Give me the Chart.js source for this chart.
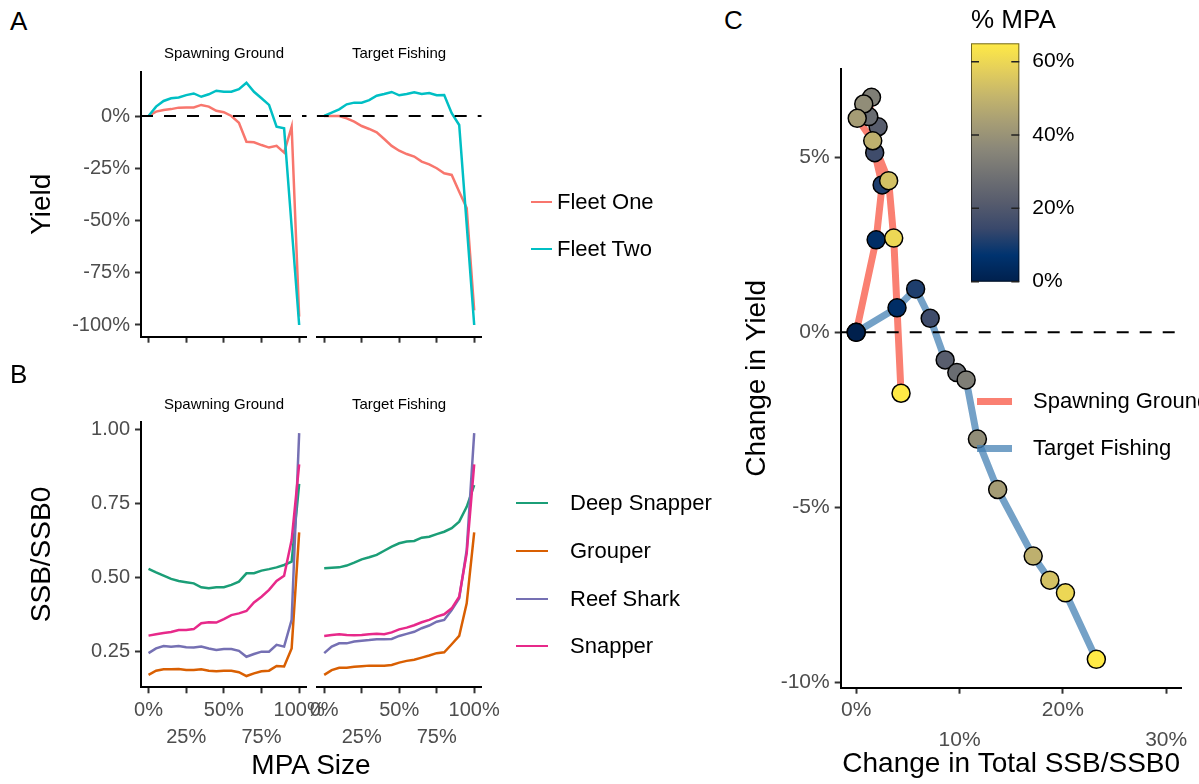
<!DOCTYPE html>
<html>
<head>
<meta charset="utf-8">
<script src="https://cdn.jsdelivr.net/npm/chart.js@4.4.1/dist/chart.umd.min.js"></script>
<style>
html, body { margin:0; padding:0; background:#fff; overflow:hidden; }
body { width:1199px; height:784px; position:relative; font-family:"Liberation Sans", Arial, sans-serif; }
canvas { position:absolute; }
.t { position:absolute; white-space:nowrap; color:#000; }
.key { position:absolute; }
</style>
</head>
<body>
<canvas id="cA1" width="340" height="330" style="left:0px;top:40px"></canvas>
<canvas id="cA2" width="222" height="330" style="left:300px;top:40px"></canvas>
<canvas id="cB1" width="340" height="384" style="left:0px;top:400px"></canvas>
<canvas id="cB2" width="222" height="384" style="left:300px;top:400px"></canvas>
<canvas id="cC" width="459" height="744" style="left:740px;top:40px"></canvas>
<canvas id="cBar" width="140" height="270" style="left:950px;top:30px"></canvas>
<script>
// ---- data -------------------------------------------------------------
const mpaSize = [0, 0.05, 0.1, 0.15, 0.2, 0.25, 0.3, 0.35, 0.4, 0.45, 0.5, 0.55, 0.6, 0.65, 0.7, 0.75, 0.8, 0.85, 0.9, 0.95, 1];

// A: yield change by fleet
const fleetOneSpawn  = [0, 0.021, 0.029, 0.033, 0.040, 0.041, 0.041, 0.053, 0.045, 0.025, 0.018, 0.000, -0.032, -0.123, -0.126, -0.139, -0.151, -0.143, -0.175, -0.051, -0.96];
const fleetTwoSpawn  = [0, 0.045, 0.072, 0.085, 0.089, 0.100, 0.108, 0.092, 0.104, 0.121, 0.116, 0.116, 0.128, 0.159, 0.116, 0.085, 0.053, -0.051, -0.059, -0.53, -1.0];
const fleetOneTarget = [0, 0, 0, -0.011, -0.027, -0.048, -0.062, -0.078, -0.110, -0.143, -0.166, -0.182, -0.194, -0.218, -0.231, -0.250, -0.274, -0.282, -0.362, -0.44, -0.93];
const fleetTwoTarget = [0, 0.016, 0.032, 0.056, 0.064, 0.064, 0.076, 0.097, 0.105, 0.115, 0.099, 0.105, 0.113, 0.105, 0.110, 0.099, 0.100, 0.013, -0.043, -0.52, -1.0];

// B: SSB/SSB0 by species
const deepSnapperSpawn = [0.529, 0.517, 0.506, 0.495, 0.488, 0.484, 0.480, 0.467, 0.464, 0.467, 0.467, 0.475, 0.486, 0.514, 0.514, 0.523, 0.528, 0.534, 0.542, 0.553, 0.815];
const grouperSpawn     = [0.172, 0.186, 0.191, 0.191, 0.192, 0.188, 0.188, 0.191, 0.186, 0.184, 0.186, 0.186, 0.181, 0.168, 0.177, 0.184, 0.186, 0.202, 0.200, 0.261, 0.652];
const reefSharkSpawn   = [0.245, 0.261, 0.269, 0.267, 0.269, 0.265, 0.264, 0.267, 0.261, 0.256, 0.259, 0.259, 0.253, 0.233, 0.242, 0.250, 0.250, 0.273, 0.267, 0.357, 0.986];
const snapperSpawn     = [0.304, 0.309, 0.313, 0.316, 0.323, 0.323, 0.326, 0.346, 0.349, 0.348, 0.360, 0.373, 0.379, 0.387, 0.416, 0.435, 0.458, 0.488, 0.506, 0.626, 0.881];

const deepSnapperTarget = [0.531, 0.533, 0.534, 0.540, 0.550, 0.561, 0.568, 0.576, 0.590, 0.604, 0.615, 0.621, 0.623, 0.634, 0.637, 0.646, 0.654, 0.666, 0.688, 0.738, 0.811];
const grouperTarget     = [0.172, 0.188, 0.196, 0.196, 0.199, 0.201, 0.203, 0.203, 0.203, 0.205, 0.213, 0.219, 0.223, 0.230, 0.237, 0.245, 0.248, 0.275, 0.303, 0.413, 0.652];
const reefSharkTarget   = [0.245, 0.267, 0.278, 0.278, 0.284, 0.287, 0.289, 0.292, 0.292, 0.293, 0.303, 0.310, 0.317, 0.329, 0.338, 0.351, 0.357, 0.390, 0.430, 0.593, 0.986];
const snapperTarget     = [0.303, 0.306, 0.309, 0.306, 0.305, 0.306, 0.309, 0.310, 0.309, 0.315, 0.325, 0.331, 0.339, 0.349, 0.357, 0.368, 0.376, 0.396, 0.435, 0.581, 0.881];

// C: change in SSB vs change in yield, coloured by % MPA
const spawnSSB   = [0, 0.0193, 0.0251, 0.0179, 0.0212, 0.0122, 0.0148, 0.0073, 0.0010, 0.0160, 0.0314, 0.0363, 0.0434];
const spawnYield = [0, 0.0264, 0.0421, 0.0513, 0.0587, 0.0616, 0.0671, 0.0652, 0.0611, 0.0547, 0.0433, 0.0269, -0.0174];
const spawnMPA   = [0, 0.05, 0.11, 0.16, 0.22, 0.27, 0.33, 0.38, 0.43, 0.49, 0.54, 0.60, 0.65];
const targetSSB   = [0, 0.0395, 0.0575, 0.0716, 0.0861, 0.0974, 0.1064, 0.1173, 0.1369, 0.1713, 0.1874, 0.2025, 0.2324];
const targetYield = [0, 0.0070, 0.0124, 0.0040, -0.0079, -0.0115, -0.0136, -0.0305, -0.0449, -0.0639, -0.0708, -0.0744, -0.0934];
const targetMPA   = [0, 0.05, 0.11, 0.16, 0.22, 0.27, 0.33, 0.38, 0.43, 0.49, 0.54, 0.60, 0.65];

const mpaTicks = [0, 0.25, 0.5, 0.75, 1];
const yieldTicks = [-1, -0.75, -0.5, -0.25, 0];
const ssbTicks = [0.25, 0.5, 0.75, 1];
const cXTicks = [0, 0.1, 0.2, 0.3];
const cYTicks = [-0.1, -0.05, 0, 0.05];
const barTicks = [0, 0.2, 0.4, 0.6];
const mpaMax = 0.65;

// cividis
const cividis = ['#00204D', '#00336F', '#39486B', '#575C6D', '#707173', '#8A8779', '#A69D75', '#C4B56C', '#E4CF5B', '#FFEA46'];

// ---- helpers ----------------------------------------------------------
const FAMILY = '"Liberation Sans", Arial, sans-serif';
const tickFont = { family: FAMILY, size: 20 };
const tickFontC = { family: FAMILY, size: 21 };
const titleFont = { family: FAMILY, size: 28 };
const pct = v => Math.round(v * 100) + '%';

function hexRgb(h) { return [1, 3, 5].map(i => parseInt(h.substr(i, 2), 16)); }
function cividisColor(t) {
  t = Math.max(0, Math.min(1, t));
  const p = t * (cividis.length - 1);
  const i = Math.min(Math.floor(p), cividis.length - 2);
  const f = p - i;
  const a = hexRgb(cividis[i]), b = hexRgb(cividis[i + 1]);
  const c = a.map((v, k) => Math.round(v + (b[k] - v) * f));
  return `rgb(${c[0]},${c[1]},${c[2]})`;
}

function setTicks(vals) { return s => { s.ticks = vals.map(v => ({ value: v })); }; }
function fixSize(size, horizontal) {
  return s => {
    if (horizontal) s.height = size; else s.width = size;
    s.paddingLeft = 0; s.paddingRight = 0; s.paddingTop = 0; s.paddingBottom = 0;
  };
}
const axisLine = { display: true, color: '#000', width: 2 };
const tickMarks = { display: true, drawOnChartArea: false, drawTicks: true, tickLength: 6, tickColor: '#333', tickWidth: 2 };

function pts(xs, ys) { return xs.map((x, i) => ({ x: x, y: ys[i] })); }
function hline(x0, x1) {
  return { data: [{ x: x0, y: 0 }, { x: x1, y: 0 }], borderColor: '#000', borderWidth: 2, borderDash: [12, 11], pointRadius: 0 };
}
function series(vals, color) {
  return { data: pts(mpaSize, vals), borderColor: color, borderWidth: 2.5, pointRadius: 0 };
}

// facet panels (A and B)
function facet(id, datasets, o) {
  return new Chart(document.getElementById(id), {
    type: 'line',
    data: { datasets: datasets },
    options: {
      responsive: false, animation: false, devicePixelRatio: 1,
      layout: { padding: o.padding },
      plugins: { legend: { display: false }, tooltip: { enabled: false } },
      elements: { line: { tension: 0 } },
      scales: {
        x: {
          type: 'linear', min: -0.05, max: 1.05,
          afterBuildTicks: setTicks(mpaTicks),
          afterFit: fixSize(o.xHeight, true),
          border: axisLine, grid: tickMarks,
          ticks: {
            display: o.xLabels, autoSkip: false, maxRotation: 0, minRotation: 0,
            font: Object.assign({ lineHeight: 1.35 }, tickFont), color: '#4D4D4D', padding: 4,
            callback: (v, i) => i % 2 ? ['', pct(v)] : pct(v)
          }
        },
        y: {
          type: 'linear', display: o.showY, min: o.yMin, max: o.yMax,
          afterBuildTicks: setTicks(o.yTicks),
          afterFit: fixSize(o.showY ? 141 : 0, false),
          border: axisLine, grid: tickMarks,
          ticks: { font: tickFont, color: '#4D4D4D', padding: 5, callback: o.yFmt },
          title: { display: !!o.yTitle, text: o.yTitle || '', font: titleFont, color: '#000', padding: { top: 25, bottom: 0 } }
        }
      }
    }
  });
}

// ---- Panel A ---------------------------------------------------------
const aOpts = { xHeight: 33.3, xLabels: false, yMin: -1.056, yMax: 0.212, yTicks: yieldTicks, yFmt: pct };
facet('cA1', [hline(-0.05, 1.05), series(fleetTwoSpawn, '#00BFC4'), series(fleetOneSpawn, '#F8766D')],
  Object.assign({ padding: { left: 0, right: 33.3, top: 31.7, bottom: 0 }, showY: true, yTitle: 'Yield' }, aOpts));
facet('cA2', [hline(-0.05, 1.05), series(fleetTwoTarget, '#00BFC4'), series(fleetOneTarget, '#F8766D')],
  Object.assign({ padding: { left: 16.7, right: 40.3, top: 31.7, bottom: 0 }, showY: false }, aOpts));

// ---- Panel B ---------------------------------------------------------
const bOpts = { xHeight: 96.7, xLabels: true, yMin: 0.130, yMax: 1.0246, yTicks: ssbTicks, yFmt: v => v.toFixed(2) };
facet('cB1', [series(snapperSpawn, '#E7298A'), series(reefSharkSpawn, '#7570B3'), series(grouperSpawn, '#D95F02'), series(deepSnapperSpawn, '#1B9E77')],
  Object.assign({ padding: { left: 0, right: 33.3, top: 21.7, bottom: 0 }, showY: true, yTitle: 'SSB/SSB0' }, bOpts));
facet('cB2', [series(snapperTarget, '#E7298A'), series(reefSharkTarget, '#7570B3'), series(grouperTarget, '#D95F02'), series(deepSnapperTarget, '#1B9E77')],
  Object.assign({ padding: { left: 16.7, right: 40.3, top: 21.7, bottom: 0 }, showY: false }, bOpts));

// ---- Panel C ---------------------------------------------------------
const salmon = '#FA8072';
const steel = 'rgba(70,130,180,0.75)';
function pointSet(xs, ys, mpa) {
  return {
    type: 'scatter', data: pts(xs, ys), showLine: false,
    pointRadius: 9, pointBorderWidth: 1.5, pointBorderColor: '#000',
    pointBackgroundColor: mpa.map(m => cividisColor(m / mpaMax))
  };
}
function pathSet(xs, ys, color) {
  return { data: pts(xs, ys), borderColor: color, borderWidth: 7, pointRadius: 0, borderCapStyle: 'butt', borderJoinStyle: 'round' };
}
new Chart(document.getElementById('cC'), {
  type: 'line',
  data: {
    datasets: [
      pointSet(targetSSB, targetYield, targetMPA),
      pointSet(spawnSSB, spawnYield, spawnMPA),
      hline(-0.015, 0.315),
      pathSet(targetSSB, targetYield, steel),
      pathSet(spawnSSB, spawnYield, salmon)
    ]
  },
  options: {
    responsive: false, animation: false, devicePixelRatio: 1,
    layout: { padding: { left: 0, right: 17.3, top: 29, bottom: 0 } },
    plugins: { legend: { display: false }, tooltip: { enabled: false } },
    elements: { line: { tension: 0 } },
    scales: {
      x: {
        type: 'linear', min: -0.015, max: 0.315,
        afterBuildTicks: setTicks(cXTicks), afterFit: fixSize(96.3, true),
        border: axisLine, grid: tickMarks,
        ticks: {
          autoSkip: false, maxRotation: 0, minRotation: 0,
          font: Object.assign({ lineHeight: 1.43 }, tickFontC), color: '#4D4D4D', padding: 1,
          callback: (v, i) => i % 2 ? ['', pct(v)] : pct(v)
        },
        title: { display: true, text: 'Change in Total SSB/SSB0', font: titleFont, color: '#000', padding: { top: 0, bottom: 3 } }
      },
      y: {
        type: 'linear', min: -0.1015, max: 0.0752,
        afterBuildTicks: setTicks(cYTicks), afterFit: fixSize(100.7, false),
        border: axisLine, grid: tickMarks,
        ticks: { font: tickFontC, color: '#4D4D4D', padding: 5, callback: pct },
        title: { display: true, text: 'Change in Yield', font: titleFont, color: '#000', padding: { top: 0, bottom: 0 } }
      }
    }
  }
});

// colour bar for % MPA
const colorBar = {
  id: 'colorBar',
  beforeDatasetsDraw(chart) {
    const { ctx, chartArea: a, scales: { y } } = chart;
    const g = ctx.createLinearGradient(0, y.getPixelForValue(0), 0, y.getPixelForValue(mpaMax));
    cividis.forEach((c, i) => g.addColorStop(i / (cividis.length - 1), c));
    ctx.save();
    ctx.fillStyle = g;
    ctx.fillRect(a.left, a.top, a.width, a.height);
    ctx.strokeStyle = 'rgba(0,0,0,0.55)';
    ctx.lineWidth = 1;
    ctx.strokeRect(a.left + 0.5, a.top + 0.5, a.width - 1, a.height - 1);
    ctx.strokeStyle = '#222';
    ctx.lineWidth = 1.5;
    y.ticks.forEach(t => {
      const py = y.getPixelForValue(t.value);
      ctx.beginPath();
      ctx.moveTo(a.left, py); ctx.lineTo(a.left + 8, py);
      ctx.moveTo(a.right - 8, py); ctx.lineTo(a.right, py);
      ctx.stroke();
    });
    ctx.restore();
  }
};
new Chart(document.getElementById('cBar'), {
  type: 'scatter',
  data: { datasets: [] },
  plugins: [colorBar],
  options: {
    responsive: false, animation: false, devicePixelRatio: 1,
    layout: { padding: { left: 21, right: 0, top: 13.3, bottom: 18.3 } },
    plugins: { legend: { display: false }, tooltip: { enabled: false } },
    scales: {
      x: { type: 'linear', display: false, min: 0, max: 1 },
      y: {
        type: 'linear', position: 'right', min: 0, max: mpaMax,
        afterBuildTicks: setTicks(barTicks), afterFit: fixSize(70.7, false),
        border: { display: false }, grid: { display: false, drawTicks: false },
        ticks: { font: { family: FAMILY, size: 21 }, color: '#000', padding: 13, callback: pct }
      }
    }
  }
});

// ---- text and legends --------------------------------------------------
function addText(txt, x, y, size, center) {
  const d = document.createElement('div');
  d.className = 't';
  d.textContent = txt;
  d.style.fontSize = size + 'px';
  d.style.lineHeight = size + 'px';
  d.style.left = x + 'px';
  d.style.top = (y - size / 2) + 'px';
  if (center) d.style.transform = 'translateX(-50%)';
  document.body.appendChild(d);
}
function addKey(x0, x1, y, w, color) {
  const d = document.createElement('div');
  d.className = 'key';
  d.style.left = x0 + 'px';
  d.style.width = (x1 - x0) + 'px';
  d.style.top = (y - w / 2) + 'px';
  d.style.height = w + 'px';
  d.style.background = color;
  document.body.appendChild(d);
}

addText('A', 10, 21, 26);
addText('B', 10, 374, 26);
addText('C', 724, 20, 26);

addText('Spawning Ground', 224, 52, 15, true);
addText('Target Fishing', 399, 52, 15, true);
addText('Spawning Ground', 224, 403, 15, true);
addText('Target Fishing', 399, 403, 15, true);
addText('MPA Size', 311, 765, 28, true);

addText('% MPA', 971, 19, 26);

const fleetNames = ['Fleet One', 'Fleet Two'];
const fleetColors = ['#F8766D', '#00BFC4'];
const fleetY = [202, 249];
fleetNames.forEach((n, i) => { addKey(531, 552, fleetY[i], 2.5, fleetColors[i]); addText(n, 557, fleetY[i], 22); });

const speciesNames = ['Deep Snapper', 'Grouper', 'Reef Shark', 'Snapper'];
const speciesColors = ['#1B9E77', '#D95F02', '#7570B3', '#E7298A'];
const speciesY = [503, 551, 599, 646];
speciesNames.forEach((n, i) => { addKey(516, 548, speciesY[i], 2.5, speciesColors[i]); addText(n, 570, speciesY[i], 22); });

const scenarioNames = ['Spawning Ground', 'Target Fishing'];
const scenarioColors = [salmon, steel];
const scenarioY = [401, 448];
scenarioNames.forEach((n, i) => { addKey(977, 1012, scenarioY[i], 7, scenarioColors[i]); addText(n, 1033, scenarioY[i], 22); });
</script>
</body>
</html>
